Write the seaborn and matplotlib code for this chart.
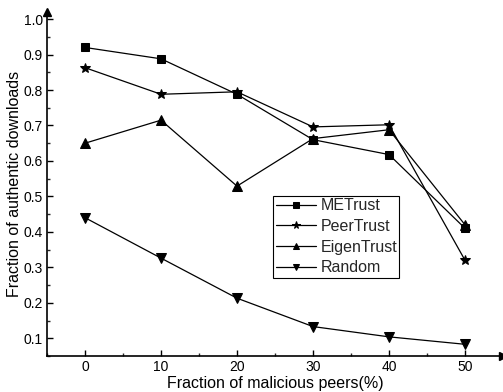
import matplotlib
matplotlib.use("Agg")
import matplotlib.pyplot as plt
import seaborn as sns
import pandas as pd
from matplotlib.ticker import MultipleLocator

x_vals = [0, 10, 20, 30, 40, 50]
metrust = [0.92, 0.888, 0.788, 0.66, 0.618, 0.41]
peertrust = [0.863, 0.788, 0.795, 0.696, 0.702, 0.32]
eigentrust = [0.65, 0.715, 0.529, 0.663, 0.688, 0.42]
random_ = [0.44, 0.326, 0.213, 0.133, 0.104, 0.083]
series_names = ["METrust", "PeerTrust", "EigenTrust", "Random"]
series_vals = [metrust, peertrust, eigentrust, random_]
markers = ["s", "*", "^", "v"]
msizes = [5.5, 7.5, 6.5, 6.5]

sns.set_theme(style="ticks")
plt.rcParams['font.family'] = ['Liberation Sans', 'DejaVu Sans']

fig = plt.figure(figsize=(5.03, 3.92), dpi=100)
ax = fig.add_axes([47/503, 1-356/392, 456/503, 344/392])

for name, vals, m, ms in zip(series_names, series_vals, markers, msizes):
    df = pd.DataFrame({"x": x_vals, "y": vals})
    sns.lineplot(data=df, x="x", y="y", ax=ax, color="black", linewidth=0.9,
                 marker=m, markersize=ms, markeredgecolor="black",
                 markerfacecolor="black", label=name)

ax.set_xlim(-5, 55)
ax.set_ylim(0.05, 1.02)
ax.set_xticks(x_vals)
ax.set_yticks([0.1, 0.2, 0.3, 0.4, 0.5, 0.6, 0.7, 0.8, 0.9, 1.0])
ax.xaxis.set_minor_locator(MultipleLocator(5))
ax.yaxis.set_minor_locator(MultipleLocator(0.05))
ax.tick_params(axis="both", which="major", direction="in", length=4, width=1,
               labelsize=10, colors="black", pad=3)
ax.tick_params(axis="both", which="minor", direction="in", length=2, width=1)
for s in ["top", "right"]:
    ax.spines[s].set_visible(False)
for s in ["left", "bottom"]:
    ax.spines[s].set_linewidth(1.2)
    ax.spines[s].set_color("black")

ax.plot(1, 0, ">", color="black", markersize=6, transform=ax.transAxes, clip_on=False)
ax.plot(0, 1, "^", color="black", markersize=6, transform=ax.transAxes, clip_on=False)

ax.set_xlabel("Fraction of malicious peers(%)", fontsize=11.5, labelpad=1, color="black")
ax.set_ylabel("Fraction of authentic downloads", fontsize=11.5, labelpad=1, color="black")

leg = ax.legend(loc="lower left", bbox_to_anchor=(0.496, 0.228), fontsize=11.5,
                frameon=True, fancybox=False, edgecolor="black", framealpha=1,
                handlelength=2.5, handletextpad=0.3, borderpad=0.15, labelspacing=0.35,
                borderaxespad=0, markerscale=0.75)
leg.get_frame().set_linewidth(0.8)

fig.savefig("out.png", dpi=100)
